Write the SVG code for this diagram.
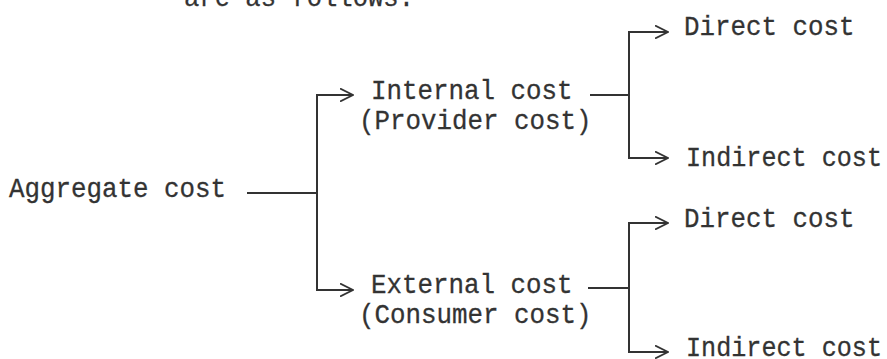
<svg xmlns="http://www.w3.org/2000/svg" width="887" height="359" viewBox="0 0 887 359">
  <style>
    text { font-family: "Liberation Mono", "DejaVu Sans Mono", monospace; font-size: 28px; fill: #333333; stroke: #333333; stroke-width: 0.3; }
    .ln { fill: none; stroke: #333333; stroke-width: 2; }
  </style>
  <defs>
    <marker id="arr" viewBox="0 0 14 14" refX="13" refY="7" markerWidth="14" markerHeight="14" markerUnits="userSpaceOnUse" orient="auto">
      <path d="M0,0.5 L13,7 L0,13.5" fill="none" stroke="#333333" stroke-width="1.8"/>
    </marker>
  </defs>
  <rect width="887" height="359" fill="#ffffff"/>

  <g id="intro">
    <text x="184" y="6" textLength="230" lengthAdjust="spacingAndGlyphs">are as follows:</text>
  </g>
  <g id="aggregate">
    <text x="9" y="197" textLength="217" lengthAdjust="spacingAndGlyphs">Aggregate cost</text>
  </g>
  <g id="internal">
    <text x="371" y="99" textLength="201.5" lengthAdjust="spacingAndGlyphs">Internal cost</text>
    <text x="359" y="129" textLength="232.5" lengthAdjust="spacingAndGlyphs">(Provider cost)</text>
  </g>
  <g id="external">
    <text x="371" y="293" textLength="201.5" lengthAdjust="spacingAndGlyphs">External cost</text>
    <text x="359" y="323" textLength="232.5" lengthAdjust="spacingAndGlyphs">(Consumer cost)</text>
  </g>
  <g id="internal-direct">
    <text x="684" y="35" textLength="170.5" lengthAdjust="spacingAndGlyphs">Direct cost</text>
  </g>
  <g id="internal-indirect">
    <text x="686" y="166" textLength="196" lengthAdjust="spacingAndGlyphs">Indirect cost</text>
  </g>
  <g id="external-direct">
    <text x="684" y="227" textLength="170.5" lengthAdjust="spacingAndGlyphs">Direct cost</text>
  </g>
  <g id="external-indirect">
    <text x="686" y="356" textLength="196" lengthAdjust="spacingAndGlyphs">Indirect cost</text>
  </g>

  <g id="connectors">
    <line class="ln" x1="247" y1="193" x2="317" y2="193"/>
    <line class="ln" x1="317" y1="95" x2="317" y2="290"/>
    <line class="ln" x1="316" y1="95" x2="353" y2="95" marker-end="url(#arr)"/>
    <line class="ln" x1="316" y1="290" x2="353" y2="290" marker-end="url(#arr)"/>

    <line class="ln" x1="590" y1="95" x2="629" y2="95"/>
    <line class="ln" x1="629" y1="32" x2="629" y2="158"/>
    <line class="ln" x1="628" y1="32" x2="668" y2="32" marker-end="url(#arr)"/>
    <line class="ln" x1="628" y1="158" x2="668" y2="158" marker-end="url(#arr)"/>

    <line class="ln" x1="588" y1="288" x2="629" y2="288"/>
    <line class="ln" x1="629" y1="223" x2="629" y2="352"/>
    <line class="ln" x1="628" y1="223" x2="668" y2="223" marker-end="url(#arr)"/>
    <line class="ln" x1="628" y1="352" x2="668" y2="352" marker-end="url(#arr)"/>
  </g>
</svg>
